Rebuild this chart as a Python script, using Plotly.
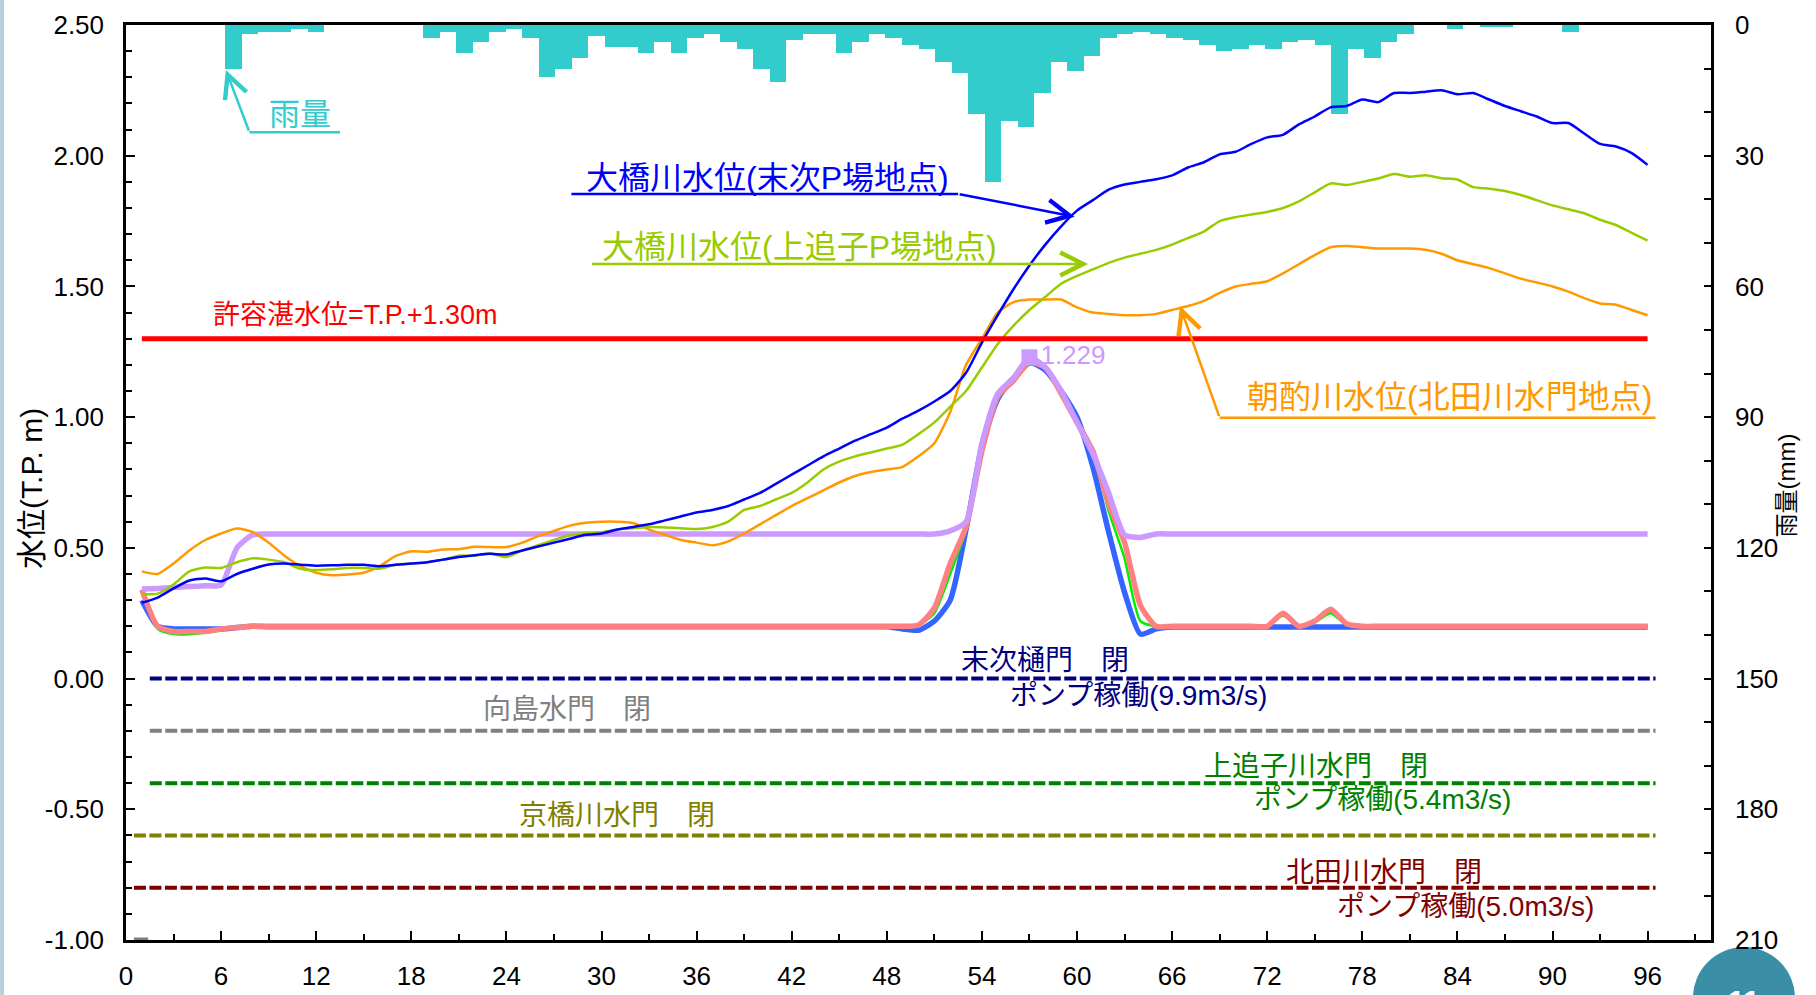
import numpy as np
import plotly.graph_objects as go

# ---------------- data ----------------
hours = list(range(1, 97))

# hourly rainfall (mm), 96 hourly slots
rain_mm = [0, 0, 0, 0, 0, 0, 10, 2, 1.5, 1.5, 1, 1.5, 0, 0, 0, 0, 0, 0,
           3, 1.5, 6.5, 4, 1.5, 1, 3, 12, 10, 7.5, 2.5, 5, 5, 6.5, 4, 6.5,
           3, 2, 4, 5.5, 10, 13, 3.5, 2, 2, 6.5, 4, 2, 3, 4.5, 5.5, 8.5,
           11, 20.5, 36, 22, 23.5, 15.5, 8.5, 10.5, 7, 3, 2, 1.5, 2, 3, 3.5, 4.5,
           6, 5.5, 4.5, 5.5, 4, 3.5, 4.5, 20.5, 5.5, 7.5, 4, 2, 0, 0, 1, 0,
           0.5, 0.5, 0, 0, 0, 1.5, 0, 0, 0, 0, 0, 0, 0, 0]

# 大橋川水位(末次P場地点)
suetsugu = [0.29, 0.31, 0.345, 0.375, 0.383, 0.372, 0.40, 0.42, 0.436, 0.44,
            0.435, 0.432, 0.433, 0.435, 0.435, 0.43, 0.435, 0.44, 0.445, 0.455,
            0.465, 0.472, 0.477, 0.475, 0.49, 0.505, 0.52, 0.535, 0.55, 0.555,
            0.57, 0.58, 0.59, 0.605, 0.62, 0.635, 0.645, 0.66, 0.685, 0.71,
            0.745, 0.78, 0.815, 0.85, 0.88, 0.91, 0.935, 0.96, 0.995, 1.025,
            1.06, 1.10, 1.17, 1.285, 1.39, 1.49, 1.58, 1.66, 1.73, 1.79,
            1.83, 1.87, 1.89, 1.90, 1.91, 1.925, 1.955, 1.975, 2.005, 2.015,
            2.045, 2.07, 2.08, 2.12, 2.15, 2.185, 2.19, 2.215, 2.205, 2.24,
            2.24, 2.245, 2.25, 2.235, 2.24, 2.215, 2.19, 2.17, 2.15, 2.125,
            2.125, 2.085, 2.045, 2.035, 2.01, 1.965]

# 大橋川水位(上追子P場地点)
kamioiko = [0.323, 0.325, 0.36, 0.41, 0.425, 0.423, 0.445, 0.46, 0.455, 0.445,
            0.42, 0.415, 0.418, 0.423, 0.423, 0.42, 0.435, 0.44, 0.445, 0.455,
            0.47, 0.47, 0.478, 0.465, 0.49, 0.51, 0.53, 0.548, 0.557, 0.56,
            0.57, 0.575, 0.58, 0.578, 0.575, 0.572, 0.58, 0.60, 0.645, 0.66,
            0.685, 0.71, 0.75, 0.80, 0.83, 0.85, 0.865, 0.88, 0.895, 0.935,
            0.98, 1.04, 1.10, 1.19, 1.28, 1.35, 1.41, 1.46, 1.51, 1.54,
            1.565, 1.59, 1.61, 1.625, 1.64, 1.66, 1.685, 1.71, 1.75, 1.765,
            1.775, 1.785, 1.80, 1.825, 1.86, 1.894, 1.888, 1.90, 1.913, 1.93,
            1.92, 1.925, 1.914, 1.909, 1.88, 1.874, 1.865, 1.85, 1.83, 1.81,
            1.795, 1.78, 1.755, 1.735, 1.705, 1.675]

# 朝酌川水位(北田川水門地点)
asakumi = [0.41, 0.40, 0.44, 0.49, 0.53, 0.555, 0.574, 0.56, 0.52, 0.47,
           0.43, 0.405, 0.395, 0.398, 0.405, 0.43, 0.468, 0.487, 0.485, 0.494,
           0.495, 0.504, 0.503, 0.503, 0.52, 0.545, 0.565, 0.585, 0.596, 0.60,
           0.60, 0.595, 0.57, 0.55, 0.53, 0.52, 0.51, 0.525, 0.555, 0.59,
           0.625, 0.66, 0.69, 0.72, 0.75, 0.775, 0.79, 0.80, 0.81, 0.85,
           0.90, 1.02, 1.20, 1.30, 1.40, 1.44, 1.45, 1.45, 1.45, 1.42,
           1.40, 1.395, 1.39, 1.39, 1.395, 1.41, 1.425, 1.445, 1.475, 1.50,
           1.51, 1.52, 1.55, 1.585, 1.62, 1.65, 1.655, 1.65, 1.645, 1.645,
           1.645, 1.64, 1.625, 1.60, 1.585, 1.57, 1.55, 1.53, 1.515, 1.50,
           1.48, 1.455, 1.435, 1.43, 1.41, 1.39]

# inner water levels (thick lines)
inner_blue = ([0.30, 0.20, 0.19, 0.19, 0.19, 0.19, 0.195, 0.20] + [0.198] * 40 +
              [0.19, 0.185, 0.22, 0.30, 0.57, 0.89, 1.07, 1.15, 1.21, 1.18,
               1.10, 1.00, 0.81, 0.56, 0.33, 0.17, 0.19] + [0.197] * 31)
inner_green = ([0.33, 0.19, 0.17, 0.17, 0.175, 0.185, 0.195, 0.20] + [0.20] * 41 +
               [0.205, 0.25, 0.40, 0.57, 0.86, 1.07, 1.14, 1.20, 1.19, 1.10,
                0.99, 0.87, 0.64, 0.46, 0.22, 0.20] + [0.20] * 7 +
               [0.24, 0.20, 0.215, 0.25, 0.205] + [0.20] * 19)
inner_salmon = ([0.34, 0.20, 0.18, 0.18, 0.18, 0.19, 0.195, 0.20] + [0.20] * 41 +
                [0.205, 0.27, 0.44, 0.58, 0.87, 1.08, 1.14, 1.21, 1.19, 1.09,
                 0.98, 0.87, 0.67, 0.52, 0.28, 0.20] + [0.20] * 7 +
                [0.25, 0.20, 0.22, 0.265, 0.21] + [0.20] * 19)
inner_purple = ([0.343, 0.345, 0.348, 0.352, 0.355, 0.358, 0.50, 0.55] + [0.553] * 43 +
                [0.565, 0.60, 0.90, 1.09, 1.15, 1.229, 1.19, 1.10, 0.98, 0.86,
                 0.71, 0.55, 0.54] + [0.553] * 32)

allow_level = 1.30
allow_hours = [1, 96]

gate_labels = ["末次", "向島", "上追子", "京橋", "北田"]
gate_levels = [0.00, -0.20, -0.40, -0.60, -0.80]
gate_start = [1.5, 1.5, 1.5, 0.5, 0.5]
gate_end = [96.5, 96.5, 96.5, 96.5, 96.5]
gate_colors = ["#000080", "#808080", "#008000", "#808000", "#800000"]

misc_hours = [0.5, 1.4]
misc_level = [-1.0, -1.0]

x_ticks = list(range(0, 97, 6))
y_ticks = [-1.0, -0.5, 0.0, 0.5, 1.0, 1.5, 2.0, 2.5]
rain_ticks = [0, 30, 60, 90, 120, 150, 180, 210]

FONT = "Liberation Sans, Arial, Noto Sans CJK JP"

# ---------------- figure ----------------
fig = go.Figure()

n_slots = len(rain_mm)
slot_w = 100.0 / n_slots
rain_x = (np.arange(1, n_slots + 1) - 0.5) * slot_w
fig.add_trace(go.Bar(x=rain_x, y=rain_mm, width=slot_w, yaxis="y",
                     marker=dict(color="rgb(51,204,204)", line=dict(width=0)),
                     name="雨量"))

for lab, lv, xs, xe, col in zip(gate_labels, gate_levels, gate_start, gate_end, gate_colors):
    fig.add_trace(go.Scatter(x=[xs, xe], y=[lv, lv], yaxis="y2", mode="lines",
                             line=dict(color=col, width=4, dash="12px,3.5px"), name=lab))

fig.add_trace(go.Scatter(x=misc_hours, y=misc_level, yaxis="y2", mode="lines",
                         line=dict(color="#6f8580", width=5)))

thick = [(inner_blue, "#3366FF", 5.5), (inner_green, "#00EE00", 2.5),
         (inner_salmon, "#FF8080", 5.5), (inner_purple, "#CC99FF", 5.5)]
for ys, col, w in thick:
    fig.add_trace(go.Scatter(x=hours, y=ys, yaxis="y2", mode="lines",
                             line=dict(color=col, width=w, shape="spline", smoothing=0.6)))

rivers = [(asakumi, "#FF9900"), (kamioiko, "#99CC00"), (suetsugu, "#0000FF")]
for ys, col in rivers:
    fig.add_trace(go.Scatter(x=hours, y=ys, yaxis="y2", mode="lines",
                             line=dict(color=col, width=2.5, shape="spline", smoothing=0.6)))

fig.add_trace(go.Scatter(x=allow_hours, y=[allow_level] * len(allow_hours), yaxis="y2",
                         mode="lines", line=dict(color="#FF0000", width=5)))

pk = int(np.argmax(inner_purple))
fig.add_trace(go.Scatter(x=[hours[pk]], y=[inner_purple[pk]], yaxis="y2", mode="markers+text",
                         marker=dict(symbol="square", size=16, color="#CC99FF"),
                         text=[f"{inner_purple[pk]:.3f}"], textposition="middle right",
                         textfont=dict(family=FONT, size=26, color="#CC99FF")))

# ---------------- annotations ----------------
ann = []
shapes = []


def label(x, y, text, color, size):
    ann.append(dict(x=x, y=y, xref="x", yref="y2", text=text, showarrow=False,
                    font=dict(family=FONT, size=size, color=color),
                    xanchor="center", yanchor="middle"))


def underline(x0, x1, y, color):
    shapes.append(dict(type="line", xref="x", yref="y2", x0=x0, x1=x1, y0=y, y1=y,
                       line=dict(color=color, width=2.5)))


def arrow(xt, yt, xf, yf, color):
    ann.append(dict(x=xt, y=yt, ax=xf, ay=yf, xref="x", yref="y2", axref="x", ayref="y2",
                    text="", showarrow=True, arrowhead=5, arrowsize=1.8, arrowwidth=2.5,
                    arrowcolor=color))


# rainfall callout
label(10.98, 2.156, "雨量", "#33CCCC", 31)
underline(7.79, 13.5, 2.09, "#33CCCC")
arrow(6.30, 2.328, 7.79, 2.09, "#33CCCC")

# 末次
label(40.45, 1.914, "大橋川水位(末次P場地点)", "#0000FF", 32)
underline(28.1, 52.5, 1.854, "#0000FF")
arrow(59.85, 1.767, 52.5, 1.854, "#0000FF")

# 上追子
label(42.5, 1.652, "大橋川水位(上追子P場地点)", "#99CC00", 32)
arrow(60.7, 1.586, 29.3, 1.586, "#99CC00")

# 朝酌
label(83.5, 1.077, "朝酌川水位(北田川水門地点)", "#FF9900", 32)
underline(69.0, 96.5, 0.998, "#FF9900")
arrow(66.5, 1.425, 69.0, 0.998, "#FF9900")

label(14.5, 1.39, "許容湛水位=T.P.+1.30m", "#FF0000", 27)

# gate labels
label(58.0, 0.071, "末次樋門　閉", "#000080", 28)
label(63.85, -0.063, "ポンプ稼働(9.9m3/s)", "#000080", 28)
label(27.8, -0.12, "向島水門　閉", "#808080", 28)
label(75.1, -0.335, "上追子川水門　閉", "#008000", 28)
label(79.3, -0.461, "ポンプ稼働(5.4m3/s)", "#008000", 28)
label(31.0, -0.522, "京橋川水門　閉", "#808000", 28)
label(79.4, -0.740, "北田川水門　閉", "#800000", 28)
label(84.5, -0.87, "ポンプ稼働(5.0m3/s)", "#800000", 28)

# axis titles
ann.append(dict(x=-0.0593, y=0.493, xref="paper", yref="paper", text="水位(T.P. m)",
                textangle=-90, showarrow=False, xanchor="center", yanchor="middle",
                font=dict(family=FONT, size=30, color="black")))
ann.append(dict(x=1.0475, y=0.497, xref="paper", yref="paper", text="雨量(mm)",
                textangle=-90, showarrow=False, xanchor="center", yanchor="middle",
                font=dict(family=FONT, size=24, color="black")))

# slide decorations (page border and page-number badge)
shapes.append(dict(type="line", xref="paper", yref="paper", x0=-0.0782, x1=-0.0782, y0=-0.07, y1=1.03,
                   line=dict(color="rgb(185,205,220)", width=4), layer="below"))
shapes.append(dict(type="circle", xref="paper", yref="paper", x0=0.9886, x1=1.053, y0=-0.119, y1=-0.0077,
                   fillcolor="rgb(58,143,166)", line=dict(width=0), layer="below"))
ann.append(dict(x=1.021, y=-0.046, xref="paper", yref="paper", text="<b>11</b>", showarrow=False,
                xanchor="center", yanchor="top", font=dict(family=FONT, size=30, color="white")))

axis_common = dict(showline=True, linecolor="black", linewidth=2.5, ticks="inside",
                   tickcolor="black", tickwidth=2, showgrid=False, zeroline=False,
                   automargin=False,
                   tickfont=dict(family=FONT, size=26, color="black"))

fig.update_layout(
    width=1816, height=995,
    margin=dict(l=126, r=105, t=25, b=55, autoexpand=False),
    paper_bgcolor="white", plot_bgcolor="white",
    showlegend=False, bargap=0,
    font=dict(family=FONT, size=26, color="black"),
    xaxis=dict(range=[0, 100], tickmode="array", tickvals=x_ticks,
               ticktext=[str(v) for v in x_ticks], ticklen=9, mirror=True,
               ticklabelstandoff=11,
               minor=dict(tickmode="linear", tick0=0, dtick=3, ticks="inside", ticklen=6,
                          tickwidth=1.5, tickcolor="black"),
               **axis_common),
    yaxis=dict(side="right", range=[210, 0], tickmode="array", tickvals=rain_ticks,
               ticktext=[str(v) for v in rain_ticks], ticklen=7, ticklabelstandoff=16,
               minor=dict(tickmode="linear", tick0=0, dtick=10, ticks="inside", ticklen=7,
                          tickwidth=1.5, tickcolor="black"),
               **axis_common),
    yaxis2=dict(side="left", overlaying="y", range=[-1, 2.5], tickmode="array",
                tickvals=y_ticks, ticktext=[f"{v:.2f}" for v in y_ticks],
                ticklen=9, ticklabelstandoff=14,
                minor=dict(tickmode="linear", tick0=0, dtick=0.1, ticks="inside", ticklen=6,
                           tickwidth=1.5, tickcolor="black"),
                **axis_common),
    annotations=ann, shapes=shapes,
)

fig.write_html("out.html", config={"displayModeBar": False},
               post_script="document.body.style.margin='0';")
